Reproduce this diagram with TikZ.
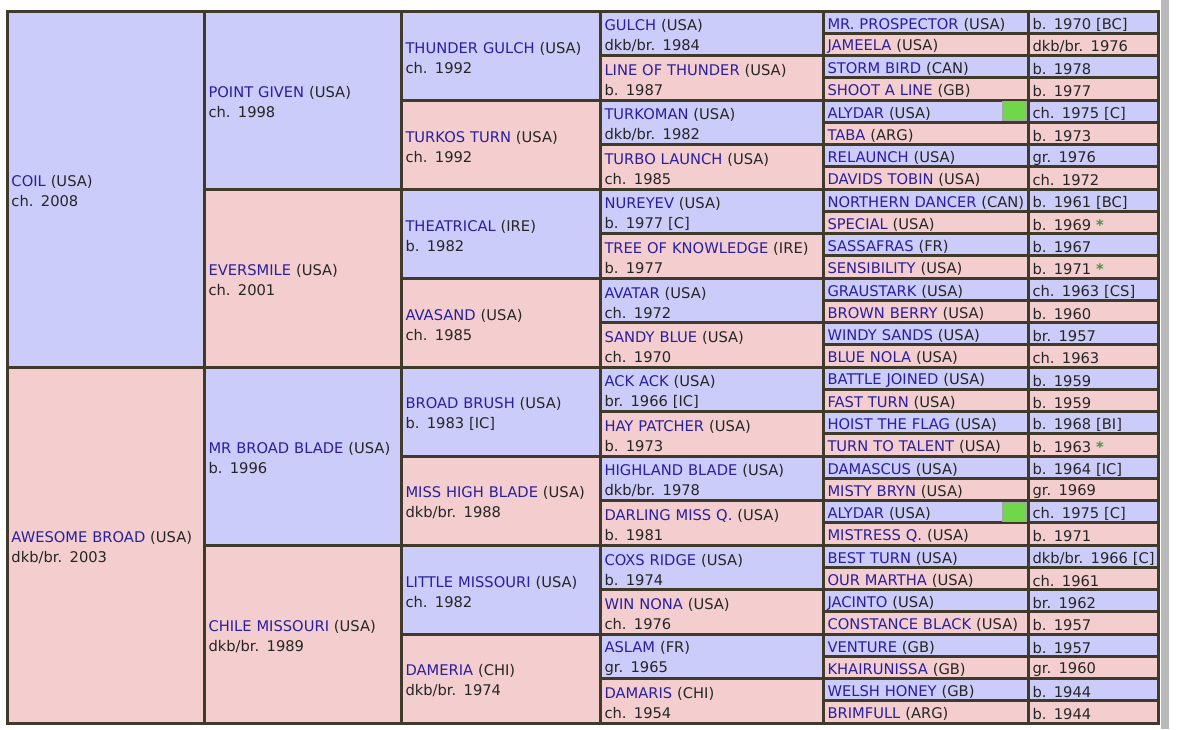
\documentclass[tikz,border=0pt]{standalone}
\usepackage{fontspec}
\setmainfont{DejaVu Sans}
\usetikzlibrary{positioning}

\definecolor{sireblue}{RGB}{204,204,250}
\definecolor{damred}{RGB}{244,206,206}
\definecolor{namecol}{RGB}{40,32,160}
\definecolor{gridcol}{RGB}{64,58,42}
\definecolor{flaggreen}{RGB}{112,214,74}
\definecolor{stargreen}{RGB}{62,150,62}
\colorlet{cell0}{sireblue}
\colorlet{cell1}{damred}

\newcommand{\horse}[2]{\textcolor{namecol}{#1} (#2)}
\newcommand{\hstar}{\textcolor{stargreen}{\textbf{*}}}

\begin{document}
\begin{tikzpicture}[x=1pt,y=-1pt,
    cell/.style={draw=gridcol,line width=3pt,anchor=north west,outer sep=0pt,
      inner xsep=4.5pt,inner ysep=0pt,align=left,text=black!85,
      execute at begin node={\noindent\rule{0pt}{16pt}},
      font=\fontsize{14.7}{20}\selectfont},
    flag/.style={fill=flaggreen,draw=gray!70,line width=0.8pt,anchor=north west,
      outer sep=0pt,inner sep=0pt,minimum width=24pt,minimum height=19pt}]
  \useasboundingbox (0,0) rectangle (1179,729);
  \fill[white] (0,0) rectangle (1179,729);
  \fill[gray!55] (1161,0) rectangle (1169,729);

  \foreach \txt [count=\i from 0] in {
      {\horse{COIL}{USA}\\ch. 2008},
      {\horse{AWESOME BROAD}{USA}\\dkb/br. 2003}}{
    \pgfmathtruncatemacro\odd{mod(\i,2)}
    \node[cell,fill=cell\odd,minimum width=197pt,text width=188pt,minimum height=356pt]
      (gen1-\i) at (7,{11+356*\i}) {\txt};
  }

  \foreach \txt [count=\i from 0] in {
      {\horse{POINT GIVEN}{USA}\\ch. 1998},
      {\horse{EVERSMILE}{USA}\\ch. 2001},
      {\horse{MR BROAD BLADE}{USA}\\b. 1996},
      {\horse{CHILE MISSOURI}{USA}\\dkb/br. 1989}}{
    \pgfmathtruncatemacro\odd{mod(\i,2)}
    \node[cell,fill=cell\odd,minimum width=197pt,text width=188pt,minimum height=178pt]
      (gen2-\i) at (204,{11+178*\i}) {\txt};
  }

  \foreach \txt [count=\i from 0] in {
      {\horse{THUNDER GULCH}{USA}\\ch. 1992},
      {\horse{TURKOS TURN}{USA}\\ch. 1992},
      {\horse{THEATRICAL}{IRE}\\b. 1982},
      {\horse{AVASAND}{USA}\\ch. 1985},
      {\horse{BROAD BRUSH}{USA}\\b. 1983 [IC]},
      {\horse{MISS HIGH BLADE}{USA}\\dkb/br. 1988},
      {\horse{LITTLE MISSOURI}{USA}\\ch. 1982},
      {\horse{DAMERIA}{CHI}\\dkb/br. 1974}}{
    \pgfmathtruncatemacro\odd{mod(\i,2)}
    \node[cell,fill=cell\odd,minimum width=199pt,text width=190pt,minimum height=89pt]
      (gen3-\i) at (401,{11+89*\i}) {\txt};
  }

  \foreach \txt [count=\i from 0] in {
      {\horse{GULCH}{USA}\\dkb/br. 1984},
      {\horse{LINE OF THUNDER}{USA}\\b. 1987},
      {\horse{TURKOMAN}{USA}\\dkb/br. 1982},
      {\horse{TURBO LAUNCH}{USA}\\ch. 1985},
      {\horse{NUREYEV}{USA}\\b. 1977 [C]},
      {\horse{TREE OF KNOWLEDGE}{IRE}\\b. 1977},
      {\horse{AVATAR}{USA}\\ch. 1972},
      {\horse{SANDY BLUE}{USA}\\ch. 1970},
      {\horse{ACK ACK}{USA}\\br. 1966 [IC]},
      {\horse{HAY PATCHER}{USA}\\b. 1973},
      {\horse{HIGHLAND BLADE}{USA}\\dkb/br. 1978},
      {\horse{DARLING MISS Q.}{USA}\\b. 1981},
      {\horse{COXS RIDGE}{USA}\\b. 1974},
      {\horse{WIN NONA}{USA}\\ch. 1976},
      {\horse{ASLAM}{FR}\\gr. 1965},
      {\horse{DAMARIS}{CHI}\\ch. 1954}}{
    \pgfmathtruncatemacro\odd{mod(\i,2)}
    \node[cell,fill=cell\odd,minimum width=223pt,text width=214pt,minimum height=44.5pt]
      (gen4-\i) at (600,{11+44.5*\i}) {\txt};
  }

  \foreach \txt [count=\i from 0] in {
      {\horse{MR. PROSPECTOR}{USA}}, {\horse{JAMEELA}{USA}},
      {\horse{STORM BIRD}{CAN}}, {\horse{SHOOT A LINE}{GB}},
      {\horse{ALYDAR}{USA}}, {\horse{TABA}{ARG}},
      {\horse{RELAUNCH}{USA}}, {\horse{DAVIDS TOBIN}{USA}},
      {\horse{NORTHERN DANCER}{CAN}}, {\horse{SPECIAL}{USA}},
      {\horse{SASSAFRAS}{FR}}, {\horse{SENSIBILITY}{USA}},
      {\horse{GRAUSTARK}{USA}}, {\horse{BROWN BERRY}{USA}},
      {\horse{WINDY SANDS}{USA}}, {\horse{BLUE NOLA}{USA}},
      {\horse{BATTLE JOINED}{USA}}, {\horse{FAST TURN}{USA}},
      {\horse{HOIST THE FLAG}{USA}}, {\horse{TURN TO TALENT}{USA}},
      {\horse{DAMASCUS}{USA}}, {\horse{MISTY BRYN}{USA}},
      {\horse{ALYDAR}{USA}}, {\horse{MISTRESS Q.}{USA}},
      {\horse{BEST TURN}{USA}}, {\horse{OUR MARTHA}{USA}},
      {\horse{JACINTO}{USA}}, {\horse{CONSTANCE BLACK}{USA}},
      {\horse{VENTURE}{GB}}, {\horse{KHAIRUNISSA}{GB}},
      {\horse{WELSH HONEY}{GB}}, {\horse{BRIMFULL}{ARG}}}{
    \pgfmathtruncatemacro\odd{mod(\i,2)}
    \node[cell,fill=cell\odd,minimum width=205pt,text width=196pt,minimum height=22.25pt]
      (gen5-\i) at (823,{11+22.25*\i}) {\mbox{\txt}};
  }

  \foreach \txt [count=\i from 0] in {
      {b. 1970 [BC]}, {dkb/br. 1976}, {b. 1978}, {b. 1977},
      {ch. 1975 [C]}, {b. 1973}, {gr. 1976}, {ch. 1972},
      {b. 1961 [BC]}, {b. 1969 \hstar}, {b. 1967}, {b. 1971 \hstar},
      {ch. 1963 [CS]}, {b. 1960}, {br. 1957}, {ch. 1963},
      {b. 1959}, {b. 1959}, {b. 1968 [BI]}, {b. 1963 \hstar},
      {b. 1964 [IC]}, {gr. 1969}, {ch. 1975 [C]}, {b. 1971},
      {dkb/br. 1966 [C]}, {ch. 1961}, {br. 1962}, {b. 1957},
      {b. 1957}, {gr. 1960}, {b. 1944}, {b. 1944}}{
    \pgfmathtruncatemacro\odd{mod(\i,2)}
    \node[cell,fill=cell\odd,minimum width=130pt,text width=121pt,minimum height=22.25pt]
      (year-\i) at (1028,{11+22.25*\i}) {\mbox{\txt}};
  }

  \node[flag] (flagA) at (1002,{11+22.25*4+1.6}) {};
  \node[flag] (flagB) at (1002,{11+22.25*22+1.6}) {};
\end{tikzpicture}
\end{document}
